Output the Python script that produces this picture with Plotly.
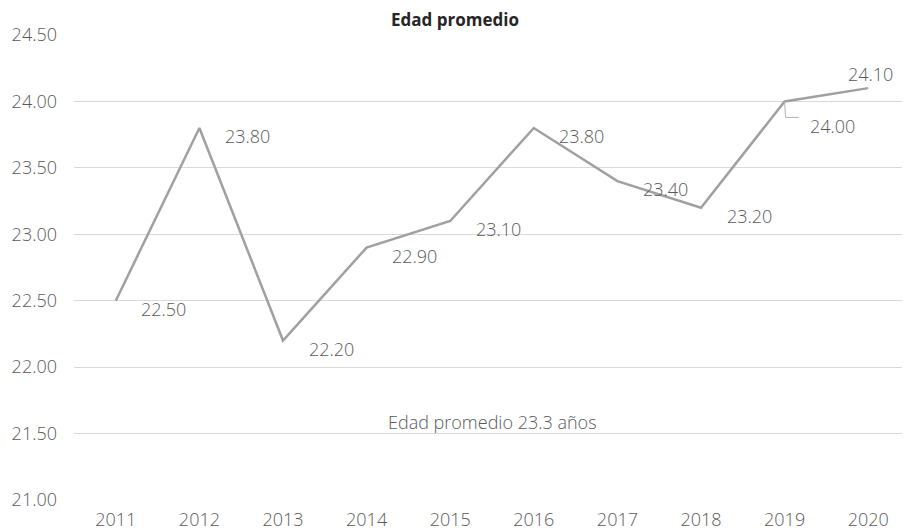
import plotly.graph_objects as go

years = [2011, 2012, 2013, 2014, 2015, 2016, 2017, 2018, 2019, 2020]
edad = [22.50, 23.80, 22.20, 22.90, 23.10, 23.80, 23.40, 23.20, 24.00, 24.10]
y_ticks = [21.0, 21.5, 22.0, 22.5, 23.0, 23.5, 24.0, 24.5]
title_text = "Edad promedio"
note_text = "Edad promedio 23.3 años"

# label offsets in pixels (x right, y down)
label_offsets = [(48, 8)] * 8 + [(48, 25), (2, -14)]

FONT = "Open Sans"
TXT = "#595959"
BODY = 8  # default page body margin offsets the figure

W, H = 910 - BODY, 532 - BODY

fig = go.Figure()
fig.add_trace(go.Scatter(
    x=years, y=edad, mode="lines",
    line=dict(color="#a0a0a0", width=2.5),
    hoverinfo="skip", showlegend=False,
))

for x, y, (dx, dy) in zip(years, edad, label_offsets):
    fig.add_annotation(
        x=x, y=y, text=f"{y:.2f}", showarrow=False,
        xshift=dx, yshift=-dy,
        font=dict(family=FONT, size=18, color=TXT, weight=300),
    )

# leader line for the 2019 label
fig.add_shape(
    type="path", xref="x", yref="y",
    xsizemode="pixel", ysizemode="pixel",
    xanchor=years[8], yanchor=edad[8],
    path="M 0 0 L 1 -16 L 14 -16",
    line=dict(color="#b0b0b0", width=1),
)

fig.add_annotation(
    x=(years[0] + years[-1]) / 2, y=21.59, text=note_text, showarrow=False,
    font=dict(family=FONT, size=18, color=TXT, weight=300),
)

fig.update_layout(
    width=W, height=H,
    margin=dict(l=74 - BODY, r=0, t=35 - BODY, b=32),
    paper_bgcolor="white", plot_bgcolor="white",
    title=dict(text=f"<b>{title_text}</b>", x=(455 - BODY) / W, xref="container",
               y=1 - (20 - BODY) / H, yanchor="middle", xanchor="center",
               font=dict(family=FONT, size=17, color="#262626")),
    font=dict(family=FONT, size=18, color=TXT),
)
fig.update_xaxes(
    range=[years[0] - 0.5, years[-1] + 0.5], tickmode="array", tickvals=years,
    ticktext=[str(y) for y in years], showgrid=False, zeroline=False,
    showline=False, ticks="", ticklabelstandoff=7,
    tickfont=dict(family=FONT, size=18, color=TXT, weight=300),
)
fig.update_yaxes(
    range=[y_ticks[0], y_ticks[-1]], tickmode="array", tickvals=y_ticks,
    ticktext=[f"{v:.2f}" for v in y_ticks], showgrid=True, gridcolor="#d9d9d9",
    gridwidth=1, zeroline=False, showline=False, ticks="", ticklabelstandoff=16,
    tickfont=dict(family=FONT, size=18, color=TXT, weight=300),
)

fig.write_html("out.html")
